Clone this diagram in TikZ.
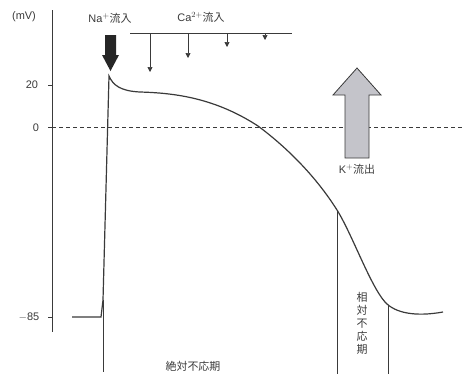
\documentclass[tikz,border=0pt]{standalone}
\usepackage{fontspec}
\setmainfont{Liberation Sans}
\newfontfamily\jp{Noto Sans CJK JP}
\usetikzlibrary{arrows.meta}
\definecolor{ink}{HTML}{3A3A3A}
\definecolor{kgray}{HTML}{C4C4CA}
\begin{document}
\begin{tikzpicture}[x=1bp,y=-1bp,
  lbl/.style={font=\fontsize{11}{13}\selectfont, text=ink, inner sep=0pt},
  jlbl/.style={font=\jp\fontsize{11}{13}\selectfont, text=ink, inner sep=0pt},
  thin line/.style={draw=ink, line width=0.7bp},
  curve/.style={draw=ink, line width=1.2bp},
  caarrow/.style={draw=ink, line width=0.7bp, -{Triangle[length=5bp,width=5bp]}}]
\useasboundingbox (0,0) rectangle (464,380);
% axis
\coordinate (axtop) at (52,10);
\coordinate (axbot) at (52,332);
\draw[thin line] (axtop) -- (axbot);
\draw[thin line] (48,85) -- (52,85);
\draw[thin line] (48,127) -- (52,127);
\draw[thin line] (48,317) -- (52,317);
\node[lbl] (mv) at (24,17) {(mV)};
\node[lbl] (t20) at (32,85) {20};
\node[lbl] (t0) at (36,128) {0};
\node[lbl] (t85) at (29,317) {$-$85};
% zero dashed line
\coordinate (d0) at (52,127);
\coordinate (d1) at (464,127);
\draw[ink, line width=0.7bp, dash pattern=on 4bp off 3bp] (d0) -- (d1);
% action potential
\draw[curve] (72,317) -- (101,317) -- (103,300) -- (109,76)
  .. controls (113,85) and (120,91) .. (140,92)
  .. controls (175,93) and (215,98) .. (258,126)
  .. controls (285,146) and (315,175) .. (337,210)
  .. controls (352,234) and (370,285) .. (385,302)
  .. controls (395,313) and (415,317) .. (443,312);
% refractory lines
\draw[thin line] (103,300) -- (103,372);
\draw[thin line] (337,210) -- (337,374);
\draw[thin line] (388,305) -- (388,374);
\node[jlbl, align=center] (rel) at (362,323) {相\\対\\不\\応\\期};
\node[jlbl] (abs) at (193,366) {絶対不応期};
% Na arrow
\node[lbl] (na) at (110,18) {Na$^{+}$\jp 流入};
\fill[black!85] (105,35) -- (116,35) -- (116,55) -- (119,55) -- (110.5,71) -- (102,55) -- (105,55) -- cycle;
% Ca
\node[lbl] (ca) at (201,17) {Ca$^{2+}$\jp 流入};
\coordinate (cl) at (130,33);
\coordinate (cr) at (292,33);
\draw[thin line] (cl) -- (cr);
\draw[caarrow] (150,33) -- (150,72);
\draw[caarrow] (188,33) -- (188,58);
\draw[caarrow] (227,33) -- (227,47);
\draw[caarrow] (265,33) -- (265,40);
% K arrow
\draw[fill=kgray, draw=ink, line width=0.8bp] (345,158) -- (369,158) -- (369,95) -- (381,95) -- (357,68) -- (333,95) -- (345,95) -- cycle;
\node[lbl] (k) at (357,169) {K$^{+}$\jp 流出};
\end{tikzpicture}
\end{document}
